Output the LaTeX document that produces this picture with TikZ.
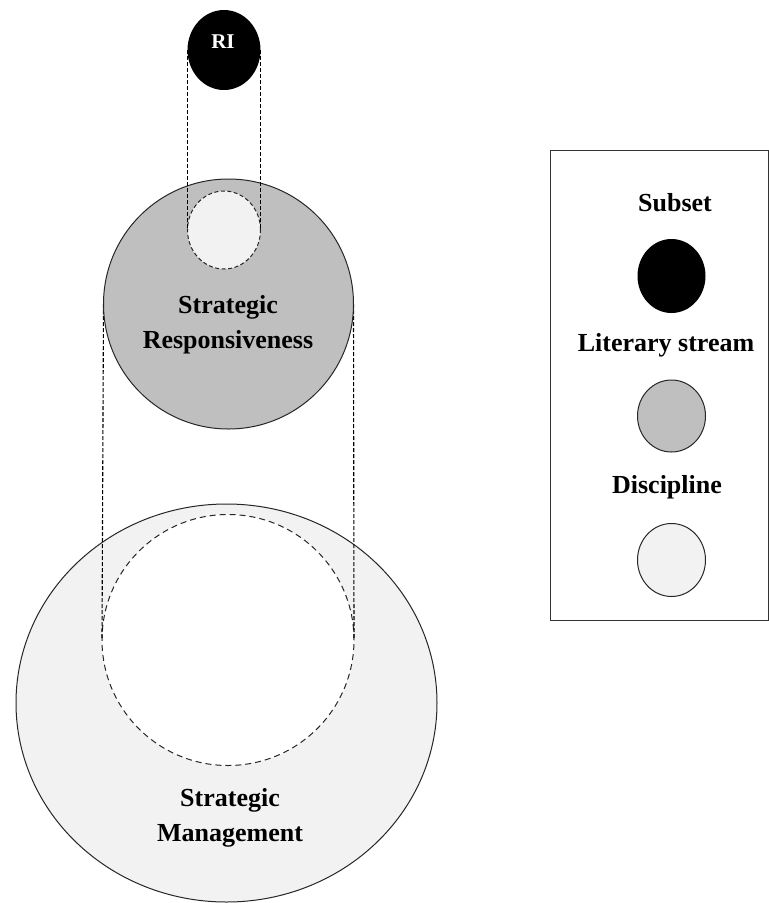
\documentclass[tikz,border=0pt]{standalone}
\usepackage{fontspec}
\setmainfont{Liberation Serif}
\usetikzlibrary{shapes.geometric}
\definecolor{streamgray}{HTML}{BFBFBF}
\definecolor{discgray}{HTML}{F2F2F2}
\begin{document}
\begin{tikzpicture}[x=1pt,y=-1pt,
  blob/.style={ellipse,inner sep=0pt,outer sep=0pt,line width=1pt},
  outline/.style={blob,draw=black!85},
  dashline/.style={draw=black,line width=1.1pt,dash pattern=on 4pt off 2pt},
  label/.style={font=\bfseries\fontsize{26}{35}\selectfont,align=center,text=black},
]
\useasboundingbox (0,0) rectangle (769,903);
% big discipline ellipse
\node[outline,fill=discgray,minimum width=421pt,minimum height=398pt] (sm) at (226.5,703) {};
\node[blob,draw=black!85,fill=white,dash pattern=on 6pt off 4pt,minimum width=252pt,minimum height=251pt] (smin) at (228,640) {};
% projection lines from literary stream to discipline
\node[blob,minimum width=250pt,minimum height=250pt] (srghost) at (228.5,304) {};
\draw[dashline] (srghost.west) -- (smin.west);
\draw[dashline] (srghost.east) -- (smin.east);
% literary stream circle
\node[outline,fill=streamgray,minimum width=250pt,minimum height=250pt] (sr) at (228.5,304) {};
% subset slot
\node[blob,draw=black!85,fill=discgray,dash pattern=on 4pt off 2.5pt,minimum width=73pt,minimum height=78pt] (slot) at (224,230) {};
% RI
\node[blob,fill=black,minimum width=73pt,minimum height=80pt] (ri) at (224,50) {};
\draw[dashline] (ri.west) -- (slot.west);
\draw[dashline] (ri.east) -- (slot.east);
\node[font=\bfseries\fontsize{21}{25}\selectfont,text=white] (ritext) at (223,42) {RI};
% labels
\node[label] (srtext) at (228,325) {Strategic\\Responsiveness};
\node[label] (smtext) at (230,818) {Strategic\\Management};
% legend
\draw[draw=black!80,line width=1pt] (550,150) rectangle (768,620);
\node[label] (lg1) at (675,203) {Subset};
\node[blob,fill=black,minimum width=68pt,minimum height=74pt] (lc1) at (671.5,276) {};
\node[label] (lg2) at (666,345) {Literary stream};
\node[outline,fill=streamgray,minimum width=68pt,minimum height=72pt] (lc2) at (671.5,416) {};
\node[label] (lg3) at (667,487) {Discipline};
\node[outline,fill=discgray,minimum width=68pt,minimum height=73pt] (lc3) at (671.5,560) {};
\end{tikzpicture}
\end{document}
